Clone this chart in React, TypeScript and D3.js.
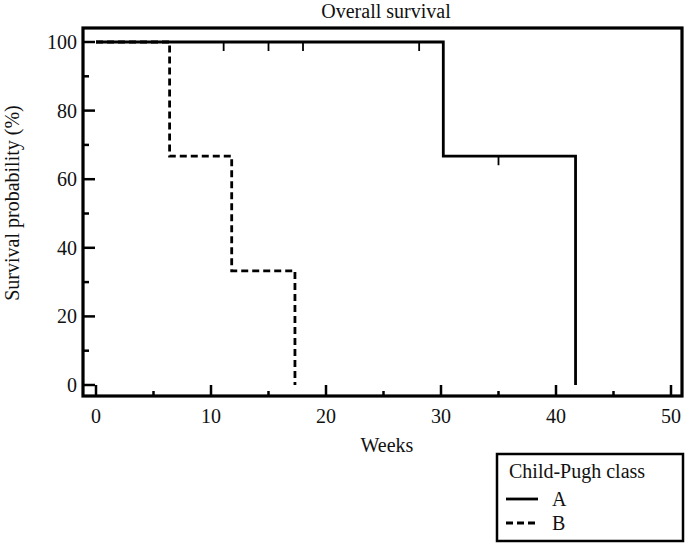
import React, { useEffect, useRef } from "react";
import * as d3 from "d3";

// Kaplan-Meier steps (weeks, survival %)
const weeksA = [0, 30.2, 41.7];
const survA = [100, 66.7, 0];
const censorWeeksA = [11.1, 15.0, 18.0, 28.1, 35.0];

const weeksB = [0, 6.4, 11.8, 17.3];
const survB = [100, 66.7, 33.3, 0];

const xTicks = [0, 10, 20, 30, 40, 50];
const xMinor = [5, 15, 25, 35, 45];
const yTicks = [0, 20, 40, 60, 80, 100];
const yMinor = [10, 30, 50, 70, 90];

const legendLabels = ["A", "B"];

const W = 686;
const H = 544;
const FONT = "Liberation Serif, Times New Roman, serif";

export default function App() {
  const svgRef = useRef<SVGSVGElement>(null);

  useEffect(() => {
    if (!svgRef.current) return;
    const svg = d3.select(svgRef.current);
    svg.selectAll("*").remove();

    const frame = { left: 83, top: 28, right: 682, bottom: 396 };
    const x = d3.scaleLinear().domain([0, 50]).range([96, 671]);
    const y = d3.scaleLinear().domain([0, 100]).range([385, 42]);

    // survival at time t (for censor marks)
    const survAt = (t: number) => {
      let s = survA[0];
      weeksA.forEach((w, i) => {
        if (w <= t) s = survA[i];
      });
      return s;
    };

    const line = d3
      .line<[number, number]>()
      .x((d) => x(d[0]))
      .y((d) => y(d[1]))
      .curve(d3.curveStepAfter);

    svg
      .append("path")
      .attr("d", line(weeksA.map((w, i) => [w, survA[i]] as [number, number])) || "")
      .attr("fill", "none")
      .attr("stroke", "#000")
      .attr("stroke-width", 2.8);

    svg
      .append("path")
      .attr("d", line(weeksB.map((w, i) => [w, survB[i]] as [number, number])) || "")
      .attr("fill", "none")
      .attr("stroke", "#000")
      .attr("stroke-width", 2.8)
      .attr("stroke-dasharray", "7,4");

    const censor = svg.append("g").attr("class", "censor");
    censorWeeksA.forEach((t) => {
      const cy = y(survAt(t));
      censor
        .append("line")
        .attr("x1", x(t))
        .attr("x2", x(t))
        .attr("y1", cy)
        .attr("y2", cy + 9)
        .attr("stroke", "#000")
        .attr("stroke-width", 1.8);
    });

    // inward ticks
    const ticks = svg.append("g").attr("stroke", "#000").attr("stroke-width", 2.5);
    xTicks.forEach((t) =>
      ticks.append("line").attr("x1", x(t)).attr("x2", x(t)).attr("y1", frame.bottom).attr("y2", frame.bottom - 11)
    );
    xMinor.forEach((t) =>
      ticks.append("line").attr("x1", x(t)).attr("x2", x(t)).attr("y1", frame.bottom).attr("y2", frame.bottom - 5)
    );
    yTicks.forEach((t) =>
      ticks.append("line").attr("x1", frame.left).attr("x2", frame.left + 12).attr("y1", y(t)).attr("y2", y(t))
    );
    yMinor.forEach((t) =>
      ticks.append("line").attr("x1", frame.left).attr("x2", frame.left + 6).attr("y1", y(t)).attr("y2", y(t))
    );

    svg
      .append("rect")
      .attr("x", frame.left)
      .attr("y", frame.top)
      .attr("width", frame.right - frame.left)
      .attr("height", frame.bottom - frame.top)
      .attr("fill", "none")
      .attr("stroke", "#000")
      .attr("stroke-width", 3.2);

    const text = svg.append("g").style("font-family", FONT).attr("font-size", 20).attr("fill", "#111");

    text
      .selectAll(".xl")
      .data(xTicks)
      .join("text")
      .attr("x", (d) => x(d))
      .attr("y", 423)
      .attr("text-anchor", "middle")
      .text((d) => d);

    text
      .selectAll(".yl")
      .data(yTicks)
      .join("text")
      .attr("x", 77)
      .attr("y", (d) => y(d) + 7)
      .attr("text-anchor", "end")
      .text((d) => d);

    text.append("text").attr("x", 386).attr("y", 18).attr("text-anchor", "middle").text("Overall survival");
    text.append("text").attr("x", 387).attr("y", 452).attr("text-anchor", "middle").text("Weeks");
    text
      .append("text")
      .attr("transform", "translate(19,203) rotate(-90)")
      .attr("text-anchor", "middle")
      .text("Survival probability (%)");

    // legend
    const lg = svg.append("g");
    lg.append("rect")
      .attr("x", 497)
      .attr("y", 454)
      .attr("width", 186)
      .attr("height", 87)
      .attr("fill", "#fff")
      .attr("stroke", "#000")
      .attr("stroke-width", 2.5);
    lg.append("text")
      .attr("x", 509)
      .attr("y", 478)
      .style("font-family", FONT)
      .attr("font-size", 20)
      .attr("fill", "#111")
      .text("Child-Pugh class");
    legendLabels.forEach((label, i) => {
      const ly = 499 + i * 24;
      lg.append("line")
        .attr("x1", 506)
        .attr("x2", 538)
        .attr("y1", ly)
        .attr("y2", ly)
        .attr("stroke", "#000")
        .attr("stroke-width", 2.8)
        .attr("stroke-dasharray", i === 1 ? "7,4" : null);
      lg.append("text")
        .attr("x", 552)
        .attr("y", ly + 7)
        .style("font-family", FONT)
        .attr("font-size", 20)
        .attr("fill", "#111")
        .text(label);
    });
  }, []);

  return (
    <svg
      ref={svgRef}
      width={W}
      height={H}
      style={{ position: "absolute", left: 0, top: 0, background: "#fff" }}
    />
  );
}
